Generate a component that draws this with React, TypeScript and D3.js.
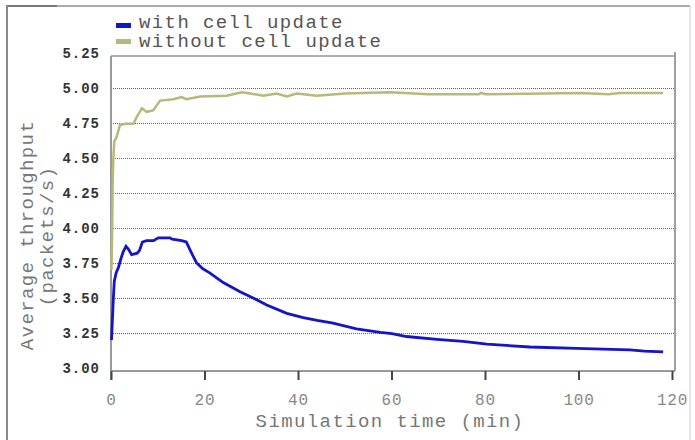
import React from "react";
import * as d3 from "d3";

const xTicks = [0, 20, 40, 60, 80, 100, 120];
const yTicks = [3.0, 3.25, 3.5, 3.75, 4.0, 4.25, 4.5, 4.75, 5.0, 5.25];
const seriesNames = ["with cell update", "without cell update"];

const withUpdate: [number, number][] = [
  [0, 3.2], [0.2, 3.35], [0.4, 3.5], [0.6, 3.62], [1, 3.68], [1.5, 3.72], [2, 3.78],
  [2.5, 3.83], [3.1, 3.87], [3.6, 3.85], [4.3, 3.81], [5.5, 3.82], [6, 3.84], [6.6, 3.9],
  [7.5, 3.91], [9, 3.91], [10, 3.93], [12.5, 3.93], [13, 3.92], [15, 3.91], [16, 3.9],
  [17, 3.83], [18.2, 3.75], [19.5, 3.71], [21, 3.68], [23.9, 3.61], [27.5, 3.545],
  [30.3, 3.5], [33.2, 3.45], [37.5, 3.39], [41, 3.36], [44, 3.34], [47.4, 3.32],
  [52.4, 3.28], [57.5, 3.255], [60, 3.245], [63.1, 3.225], [69.6, 3.205], [75.2, 3.19],
  [80.3, 3.17], [89.5, 3.15], [99.5, 3.14], [110.9, 3.13], [114, 3.12], [118, 3.115],
];

const withoutUpdate: [number, number][] = [
  [0, 3.7], [0.15, 4.0], [0.25, 4.32], [0.4, 4.5], [0.6, 4.62], [1.1, 4.65], [1.8, 4.735],
  [3, 4.745], [4.7, 4.745], [5.5, 4.8], [6.5, 4.855], [7.5, 4.83], [8.9, 4.84], [10.4, 4.91],
  [13.2, 4.92], [15, 4.935], [16, 4.92], [19, 4.94], [24.6, 4.945], [27.9, 4.97], [29, 4.965],
  [32.5, 4.945], [35.3, 4.96], [37.5, 4.94], [39.6, 4.96], [43.9, 4.945], [49.9, 4.96],
  [59.6, 4.97], [67.8, 4.955], [78.6, 4.955], [79, 4.965], [80, 4.955], [100.2, 4.965],
  [106.3, 4.955], [108.8, 4.965], [118, 4.965],
];

const BLUE = "#1414c8";
const OLIVE = "#b9b87a";
const MONO = "'Liberation Mono', 'DejaVu Sans Mono', monospace";

export default function App() {
  const x = d3.scaleLinear().domain([0, 120]).range([111.5, 672.5]);
  const y = d3.scaleLinear().domain([3, 5.25]).range([368, 53]);
  const line = d3
    .line<[number, number]>()
    .x((d) => x(d[0]))
    .y((d) => y(d[1]));

  const left = 111;
  const right = 675;
  const top = 56;
  const bottom = 371;

  return (
    <svg
      width={695}
      height={440}
      style={{ position: "absolute", left: 0, top: 0, background: "#fff" }}
    >
      {/* outer frame */}
      <line x1={7} y1={6} x2={690} y2={6} stroke="#aaa" strokeWidth={2} />
      <line x1={7} y1={6} x2={57} y2={6} stroke="#777" strokeWidth={2} />
      <line x1={7} y1={5} x2={7} y2={440} stroke="#888" strokeWidth={2} />
      <line x1={690} y1={6} x2={690} y2={440} stroke="#ccc" strokeWidth={1} />

      {/* gridlines */}
      {yTicks
        .filter((t) => t > 3 && t < 5.2)
        .map((t) => (
          <line
            key={"g" + t}
            x1={left}
            x2={right}
            y1={Math.round(y(t)) + 0.5}
            y2={Math.round(y(t)) + 0.5}
            stroke="#666"
            strokeWidth={1}
            strokeDasharray="1,1"
          />
        ))}

      {/* plot box */}
      <line x1={left} y1={top} x2={right} y2={top} stroke="#b0b0b0" strokeWidth={2} />
      <line x1={right} y1={52} x2={right} y2={bottom} stroke="#a0a0a0" strokeWidth={2} />
      <line x1={left} y1={top} x2={left} y2={380} stroke="#999" strokeWidth={2} />
      <line x1={left} y1={bottom} x2={right} y2={bottom} stroke="#999" strokeWidth={2} />

      {/* x ticks */}
      {xTicks.map((t) => (
        <g key={"x" + t}>
          <line x1={x(t)} x2={x(t)} y1={bottom} y2={380} stroke="#444" strokeWidth={2} />
          <text
            x={x(t)}
            y={405}
            textAnchor="middle"
            fontFamily={MONO}
            fontSize={16}
            letterSpacing={0.8}
            fill="#888"
          >
            {t}
          </text>
        </g>
      ))}

      {/* y tick labels */}
      {yTicks.map((t) => (
        <text
          key={"y" + t}
          x={100}
          y={y(t) + 5}
          textAnchor="end"
          fontFamily={MONO}
          fontSize={14}
          fontWeight="bold"
          letterSpacing={1}
          fill="#333"
        >
          {t.toFixed(2)}
        </text>
      ))}

      {/* series */}
      <path d={line(withoutUpdate) || ""} fill="none" stroke={OLIVE} strokeWidth={2.5} />
      <path d={line(withUpdate) || ""} fill="none" stroke={BLUE} strokeWidth={2.8} />

      {/* legend */}
      <rect x={116} y={23} width={15} height={5} fill={BLUE} />
      <text x={139} y={28} fontFamily={MONO} fontSize={19} letterSpacing={1.4} fill="#555">
        {seriesNames[0]}
      </text>
      <rect x={116} y={39} width={15} height={5} fill={OLIVE} />
      <text x={139} y={47} fontFamily={MONO} fontSize={19} letterSpacing={1.4} fill="#555">
        {seriesNames[1]}
      </text>

      {/* axis titles */}
      <text
        x={390}
        y={427}
        textAnchor="middle"
        fontFamily={MONO}
        fontSize={19}
        letterSpacing={1.4}
        fill="#777"
      >
        Simulation time (min)
      </text>
      <text
        transform="translate(33,235) rotate(-90)"
        textAnchor="middle"
        fontFamily={MONO}
        fontSize={19}
        letterSpacing={1.4}
        fill="#777"
      >
        Average throughput
      </text>
      <text
        transform="translate(53,236) rotate(-90)"
        textAnchor="middle"
        fontFamily={MONO}
        fontSize={19}
        letterSpacing={1.4}
        fill="#777"
      >
        (packets/s)
      </text>
    </svg>
  );
}
